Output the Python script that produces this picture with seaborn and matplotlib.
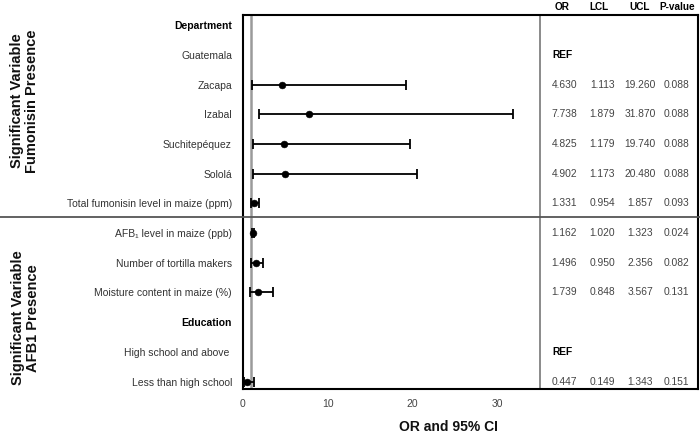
import matplotlib
matplotlib.use("Agg")
import matplotlib.pyplot as plt
import seaborn as sns
import numpy as np
import pandas as pd

labels = ["Department", "Guatemala", "Zacapa", "Izabal", "Suchitepéquez", "Sololá",
          "Total fumonisin level in maize (ppm)",
          "AFB\u2081 level in maize (ppb)", "Number of tortilla makers",
          "Moisture content in maize (%)", "Education", "High school and above ",
          "Less than high school"]
bold_rows = ["Department", "Education"]
ref_rows = ["Guatemala", "High school and above "]
OR = [np.nan, np.nan, 4.630, 7.738, 4.825, 4.902, 1.331, 1.162, 1.496, 1.739, np.nan, np.nan, 0.447]
LCL = [np.nan, np.nan, 1.113, 1.879, 1.179, 1.173, 0.954, 1.020, 0.950, 0.848, np.nan, np.nan, 0.149]
UCL = [np.nan, np.nan, 19.260, 31.870, 19.740, 20.480, 1.857, 1.323, 2.356, 3.567, np.nan, np.nan, 1.343]
PVAL = [np.nan, np.nan, 0.088, 0.088, 0.088, 0.088, 0.093, 0.024, 0.082, 0.131, np.nan, np.nan, 0.151]
headers = ["OR", "LCL", "UCL", "P-value"]
xticks = [0, 10, 20, 30]
group_labels = ["Significant Variable\nFumonisin Presence", "Significant Variable\nAFB1 Presence"]

sns.set_style("white")
plt.rcParams["font.family"] = ["Liberation Sans", "DejaVu Sans"]

df = pd.DataFrame({"label": labels, "row": np.arange(len(labels)), "OR": OR,
                   "LCL": LCL, "UCL": UCL, "P": PVAL})

fig = plt.figure(figsize=(7, 4.41), dpi=100)
ax = fig.add_axes([243 / 700, 52 / 441, 455 / 700, 374 / 441])

XMAX = 53.7
XDIV = 35.1
ax.set_xlim(0, XMAX)
ax.set_ylim(12.25, -0.34)

# reference line at OR = 1
ax.axvline(1, color="#9a9a9a", lw=1.8, zorder=1)
# table divider
ax.axvline(XDIV, color="#777777", lw=1.2, zorder=1)

d = df.dropna(subset=["OR"])
ax.errorbar(d["OR"], d["row"], xerr=[d["OR"] - d["LCL"], d["UCL"] - d["OR"]],
            fmt="none", ecolor="black", elinewidth=1.3, capsize=3.6, capthick=1.3, zorder=2)
sns.scatterplot(data=d, x="OR", y="row", color="black", s=24, edgecolor="black",
                ax=ax, zorder=3, legend=False)

# table
col_x = [37.9, 42.4, 46.9, 51.2]
head_x = [37.6, 42.0, 46.8, 51.2]
for hx, h in zip(head_x, headers):
    ax.text(hx, -0.6, h, ha="center", va="center", fontsize=7.2, fontweight="bold",
            color="black", clip_on=False)
for _, r in df.iterrows():
    if r["label"] in ref_rows:
        ax.text(36.5, r["row"], "REF", ha="left", va="center", fontsize=7.4,
                fontweight="bold", color="black")
    elif not np.isnan(r["OR"]):
        vals = [f"{r['OR']:.3f}", f"{r['LCL']:.3f}", f"{r['UCL']:.3f}", f"{r['P']:.3f}"]
        for cx, v in zip(col_x, vals):
            ax.text(cx, r["row"], v, ha="center", va="center", fontsize=7.4, color="#444444")

ax.set_yticks(df["row"])
ax.set_yticklabels(df["label"])
for t in ax.get_yticklabels():
    t.set_fontsize(7.5)
    if t.get_text() in bold_rows:
        t.set_fontweight("bold")
        t.set_color("black")
    else:
        t.set_color("#333333")
ax.tick_params(axis="y", length=0, pad=8)
ax.set_xticks(xticks)
ax.tick_params(axis="x", length=0, labelsize=7.5, labelcolor="#444444", pad=7)
ax.set_xlabel("")
ax.set_ylabel("")

for s in ax.spines.values():
    s.set_color("black")
    s.set_linewidth(1.5)

# separator across whole figure
fig.add_artist(plt.Line2D([0, 1], [1 - 217 / 441, 1 - 217 / 441], color="#555555",
                          lw=1.3, transform=fig.transFigure))

fig.text(0.035, 1 - 101 / 441, group_labels[0], rotation=90, ha="center", va="center",
         fontsize=10.5, fontweight="bold", color="#111111", linespacing=1.1)
fig.text(0.037, 1 - 318 / 441, group_labels[1], rotation=90, ha="center", va="center",
         fontsize=10.5, fontweight="bold", color="#111111", linespacing=1.1)
fig.text(448 / 700, 1 - 427 / 441, "OR and 95% CI", ha="center", va="center",
         fontsize=10, fontweight="bold", color="#111111")

fig.savefig("out.png", dpi=100)
